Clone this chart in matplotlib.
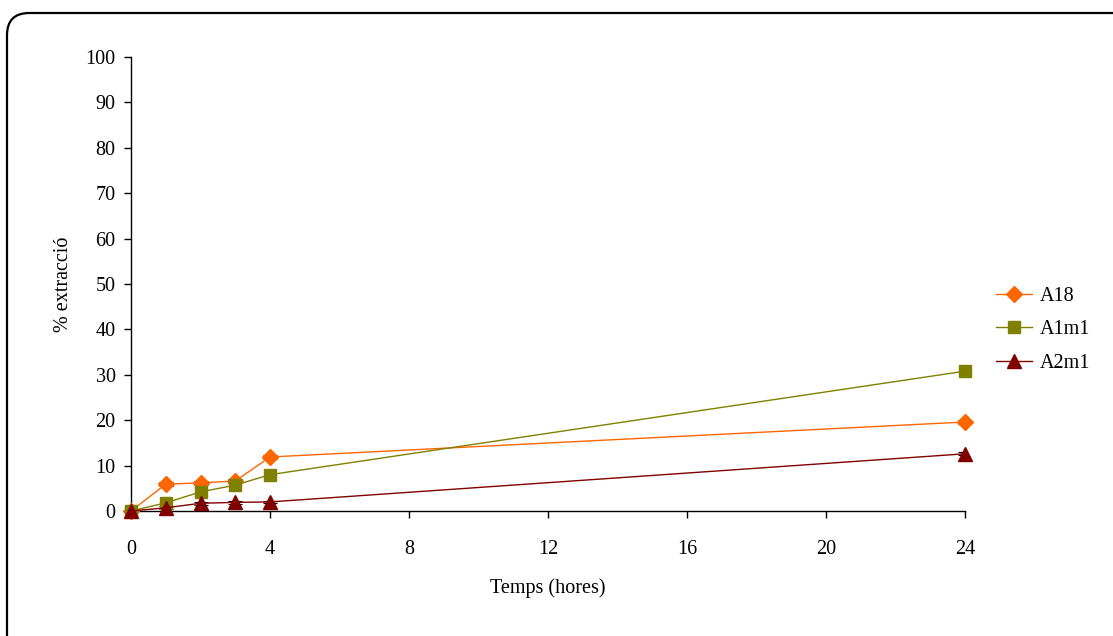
import matplotlib
matplotlib.use("Agg")
import matplotlib.pyplot as plt
from matplotlib.patches import FancyBboxPatch

# Extraction over time (hours)
hours = [0, 1, 2, 3, 4, 24]
a18 = [0, 5.9, 6.2, 6.6, 11.9, 19.6]
a1m1 = [0, 1.8, 4.2, 5.7, 8.0, 30.8]
a2m1 = [0, 0.7, 1.7, 1.9, 2.0, 12.6]
a18_err = [0, 0.4, 0.4, 0.4, 0.4, 0.4]
a2m1_err = [0, 0.3, 0.3, 0.3, 0.3, 0.3]

x_ticks = [0, 4, 8, 12, 16, 20, 24]
y_ticks = list(range(0, 101, 10))

plt.rcParams['font.family'] = ['Liberation Serif', 'DejaVu Serif']

W, H = 1113, 636
fig = plt.figure(figsize=(W / 100, H / 100), dpi=100)

# rounded chart-area border
border = FancyBboxPatch((7 / W, -40 / H), (W + 40) / W, (H + 40 - 13) / H,
                        boxstyle="round,pad=0,rounding_size=0.02",
                        transform=fig.transFigure, fill=False,
                        edgecolor='black', linewidth=1.6, mutation_aspect=W / H)
fig.patches.append(border)

ax = fig.add_axes([131 / W, (H - 511) / H, (965 - 131) / W, (511 - 57) / H])

ax.errorbar(hours, a18, yerr=a18_err, fmt='none', ecolor='black',
            elinewidth=0.8, capsize=5, capthick=0.8, zorder=2)
ax.errorbar(hours, a2m1, yerr=a2m1_err, fmt='none', ecolor='black',
            elinewidth=0.8, capsize=5, capthick=0.8, zorder=2)

ax.plot(hours, a18, color='#FF6600', marker='D', markersize=8.5, lw=1,
        label='A18', zorder=3, clip_on=False)
ax.plot(hours, a1m1, color='#808000', marker='s', markersize=9, lw=1,
        label='A1m1', zorder=3, clip_on=False)
ax.plot(hours, a2m1, color='#800000', marker='^', markersize=10.5, lw=1,
        label='A2m1', zorder=3, clip_on=False)

ax.set_xlim(0, 24)
ax.set_ylim(0, 100)
ax.set_xticks(x_ticks)
ax.set_yticks(y_ticks)
ax.tick_params(direction='out', length=5, width=1, labelsize=14.5)
ax.tick_params(axis='y', pad=6)
ax.tick_params(axis='x', pad=16)
for s in ('top', 'right'):
    ax.spines[s].set_visible(False)
for s in ('left', 'bottom'):
    ax.spines[s].set_linewidth(1)

ax.set_xlabel('Temps (hores)', fontsize=14.5, labelpad=14)
ax.set_ylabel('% extracció', fontsize=14.5, labelpad=9)

fig.legend(loc='upper left', bbox_to_anchor=(978 / W, 1 - 269 / H),
           frameon=False, fontsize=14.5, handlelength=1.8, labelspacing=0.7,
           handletextpad=0.35)

fig.savefig('out.png', dpi=100)
